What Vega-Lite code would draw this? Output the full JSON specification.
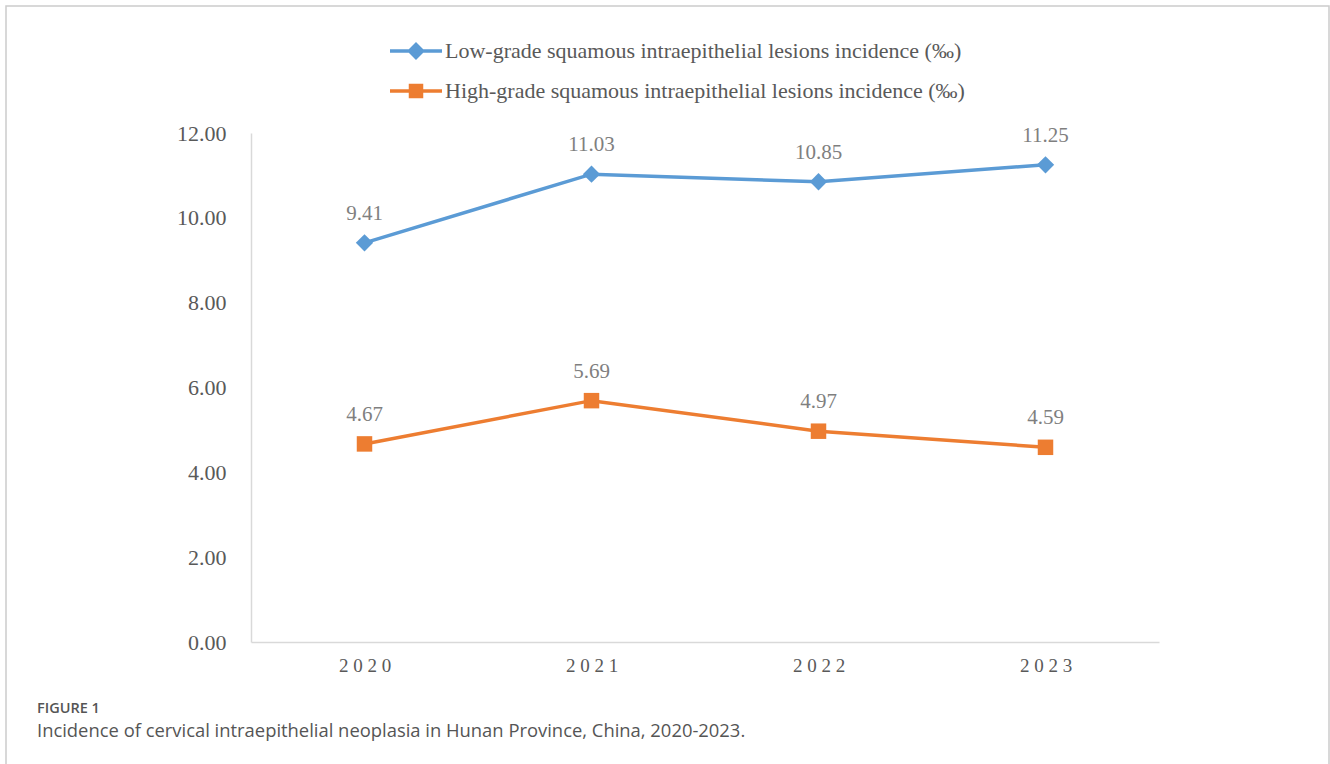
{
  "$schema": "https://vega.github.io/schema/vega-lite/v6.json",
  "width": 1323,
  "height": 760,
  "autosize": {"type": "none"},
  "padding": {"left": 6, "top": 6, "right": 1, "bottom": 0},
  "background": "white",
  "config": {
    "view": {"stroke": "#cccccc", "strokeWidth": 1.5},
    "font": "Liberation Serif"
  },
  "title": {
    "text": "FIGURE 1",
    "subtitle": "Incidence of cervical intraepithelial neoplasia in Hunan Province, China, 2020-2023.",
    "orient": "bottom",
    "anchor": "start",
    "frame": "group",
    "dx": 31,
    "offset": -64,
    "font": "Open Sans",
    "fontSize": 14.5,
    "fontWeight": 600,
    "color": "#555555",
    "subtitleFont": "Open Sans",
    "subtitleFontSize": 18.4,
    "subtitleColor": "#555555",
    "subtitlePadding": 5
  },
  "data": {
    "values": [
      {"year": "2020", "series": "Low-grade squamous intraepithelial lesions incidence (‰)", "value": 9.41},
      {"year": "2021", "series": "Low-grade squamous intraepithelial lesions incidence (‰)", "value": 11.03},
      {"year": "2022", "series": "Low-grade squamous intraepithelial lesions incidence (‰)", "value": 10.85},
      {"year": "2023", "series": "Low-grade squamous intraepithelial lesions incidence (‰)", "value": 11.25},
      {"year": "2020", "series": "High-grade squamous intraepithelial lesions incidence (‰)", "value": 4.67},
      {"year": "2021", "series": "High-grade squamous intraepithelial lesions incidence (‰)", "value": 5.69},
      {"year": "2022", "series": "High-grade squamous intraepithelial lesions incidence (‰)", "value": 4.97},
      {"year": "2023", "series": "High-grade squamous intraepithelial lesions incidence (‰)", "value": 4.59}
    ]
  },
  "encoding": {
    "x": {
      "field": "year",
      "type": "ordinal",
      "scale": {"type": "point", "padding": 0.5, "range": [245, 1153]},
      "axis": {
        "title": null,
        "offset": -124,
        "ticks": false,
        "tickSize": 0,
        "domainColor": "#d9d9d9",
        "domainWidth": 1.5,
        "labelFont": "Liberation Serif",
        "labelFontSize": 19,
        "labelColor": "#595959",
        "labelPadding": 14,
        "labelAngle": 0,
        "labelExpr": "join(split(datum.label, ''), ' ')",
        "grid": false
      }
    },
    "y": {
      "field": "value",
      "type": "quantitative",
      "scale": {"domain": [0, 12], "range": [636, 127], "nice": false},
      "axis": {
        "title": null,
        "offset": -245,
        "values": [0, 2, 4, 6, 8, 10, 12],
        "format": ".2f",
        "ticks": false,
        "tickSize": 0,
        "grid": false,
        "domainColor": "#d9d9d9",
        "domainWidth": 1.5,
        "labelFont": "Liberation Serif",
        "labelFontSize": 22,
        "labelColor": "#595959",
        "labelPadding": 25
      }
    },
    "color": {
      "field": "series",
      "type": "nominal",
      "scale": {
        "domain": ["Low-grade squamous intraepithelial lesions incidence (‰)", "High-grade squamous intraepithelial lesions incidence (‰)"],
        "range": ["#5B9BD5", "#ED7D31"]
      },
      "legend": {
        "title": null,
        "orient": "none",
        "legendX": 398,
        "legendY": 33,
        "direction": "vertical",
        "labelFont": "Liberation Serif",
        "labelFontSize": 22,
        "labelColor": "#595959",
        "labelLimit": 900,
        "labelOffset": 17,
        "rowPadding": 13,
        "symbolSize": 400,
        "symbolStrokeWidth": 3.5,
        "encode": {
          "symbols": {
            "update": {
              "shape": {"signal": "datum.index == 0 ? 'M-2.6,0H2.6M0,-0.65L0.65,0L0,0.65L-0.65,0Z' : 'M-2.6,0H2.6M-0.55,-0.55H0.55V0.55H-0.55Z'"},
              "fill": {"signal": "datum.index == 0 ? '#5B9BD5' : '#ED7D31'"},
              "stroke": {"signal": "datum.index == 0 ? '#5B9BD5' : '#ED7D31'"},
              "strokeWidth": {"value": 3.5},
              "opacity": {"value": 1},
              "fillOpacity": {"value": 1}
            }
          }
        }
      }
    }
  },
  "layer": [
    {
      "mark": {"type": "line", "strokeWidth": 3.5},
      "encoding": {}
    },
    {
      "transform": [{"filter": "datum.series == 'Low-grade squamous intraepithelial lesions incidence (‰)'"}],
      "mark": {"type": "point", "filled": true, "opacity": 1, "shape": "diamond", "size": 300},
      "encoding": {}
    },
    {
      "transform": [{"filter": "datum.series == 'High-grade squamous intraepithelial lesions incidence (‰)'"}],
      "mark": {"type": "point", "filled": true, "opacity": 1, "shape": "square", "size": 240},
      "encoding": {}
    },
    {
      "mark": {"type": "text", "baseline": "alphabetic", "dy": -23, "font": "Liberation Serif", "fontSize": 21},
      "encoding": {
        "text": {"field": "value", "type": "quantitative", "format": ".2f"},
        "color": {"value": "#7f7f7f"}
      }
    }
  ]
}
